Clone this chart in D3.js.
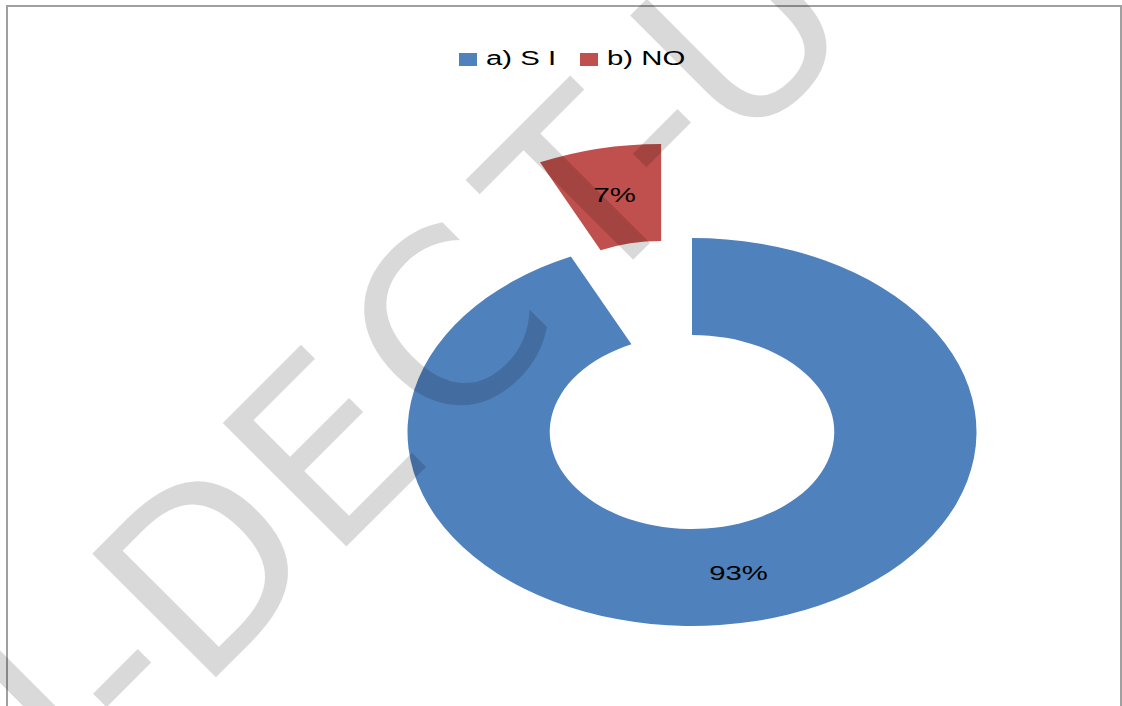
<!DOCTYPE html>
<html>
<head>
<meta charset="utf-8">
<script src="https://cdn.jsdelivr.net/npm/d3@7"></script>
<style>
  html, body { margin: 0; padding: 0; background: #fff; }
  svg { display: block; }
</style>
</head>
<body>
<script>
// Survey answers shown as a doughnut chart
const categories = ["a) S I", "b) NO"];
const values = [93, 7];
const colors = ["#4f81bd", "#c0504d"];

const W = 1122, H = 706;
const cx = 692, cy = 432;          // doughnut centre
const rOuter = 194, rInner = 97;   // vertical radii
const stretch = 1.4665;            // horizontal stretch of the whole plot
const explode = [0, 0.497];        // slice pull-out, as a fraction of the outer radius

const svg = d3.select("body").append("svg")
  .attr("width", W).attr("height", H);

svg.append("rect").attr("width", W).attr("height", H).attr("fill", "#fff");

// chart frame
svg.append("rect")
  .attr("x", 7).attr("y", 6).attr("width", 1114).attr("height", 800)
  .attr("fill", "none").attr("stroke", "#a0a0a0").attr("stroke-width", 2);

const total = d3.sum(values);
const arcs = d3.pie().sort(null).value(d => d)(values);
const arc = d3.arc().innerRadius(rInner).outerRadius(rOuter);

const plot = svg.append("g")
  .attr("transform", `translate(${cx},${cy}) scale(${stretch},1)`);

function offset(d, i) {
  const a = (d.startAngle + d.endAngle) / 2;
  const dist = explode[i] * rOuter;
  return [Math.sin(a) * dist, -Math.cos(a) * dist];
}

plot.selectAll("path.slice")
  .data(arcs)
  .join("path")
  .attr("class", "slice")
  .attr("d", arc)
  .attr("fill", (d, i) => colors[i])
  .attr("transform", (d, i) => {
    const [ox, oy] = offset(d, i);
    return `translate(${ox},${oy})`;
  });

plot.selectAll("text.label")
  .data(arcs)
  .join("text")
  .attr("class", "label")
  .attr("x", (d, i) => arc.centroid(d)[0] + offset(d, i)[0])
  .attr("y", (d, i) => arc.centroid(d)[1] + offset(d, i)[1])
  .attr("dy", "0.28em")
  .attr("text-anchor", "middle")
  .attr("font-family", "Liberation Sans, Arial, sans-serif")
  .attr("font-size", 20)
  .attr("fill", "#000")
  .text(d => Math.round(d.data / total * 100) + "%");

// legend
const legendX = [459, 580];
const legend = svg.append("g").attr("transform", "translate(0,53)");
const items = legend.selectAll("g.item")
  .data(categories)
  .join("g")
  .attr("class", "item")
  .attr("transform", (d, i) => `translate(${legendX[i]},0)`);
items.append("rect")
  .attr("width", 18).attr("height", 13)
  .attr("fill", (d, i) => colors[i]);
items.append("text")
  .attr("transform", `translate(27,12) scale(${stretch},1)`)
  .attr("font-family", "Liberation Sans, Arial, sans-serif")
  .attr("font-size", 20)
  .attr("fill", "#000")
  .text(d => d);

// diagonal watermark over the chart
const mark = svg.append("g")
  .attr("transform", "rotate(-45)")
  .attr("pointer-events", "none");
const wm = mark.append("text")
  .attr("y", 631.5)
  .attr("font-family", "DejaVu Sans, sans-serif")
  .attr("font-size", 240)
  .attr("fill", "#000")
  .attr("fill-opacity", 0.15);
wm.append("tspan").attr("x", -616).text("N-DE");
wm.append("tspan").attr("x", 1).text("C");
wm.append("tspan").attr("x", 202.5).text("T-U");
</script>
</body>
</html>
